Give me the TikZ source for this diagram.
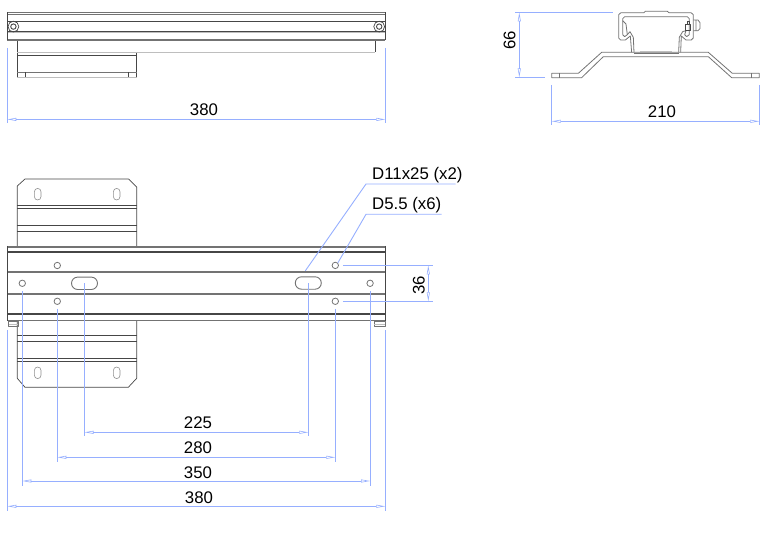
\documentclass[tikz,border=0pt]{standalone}
\usepackage{fontspec}
\setmainfont{Liberation Sans}
\usetikzlibrary{arrows.meta, shapes.misc}
\definecolor{dimblue}{RGB}{150,175,255}
\definecolor{steeldark}{RGB}{70,70,70}
\definecolor{steelmid}{RGB}{115,115,115}
\definecolor{steellight}{RGB}{190,190,190}
\tikzset{
x=1pt, y=-1pt, % reference pixels, y going down
ext/.style={draw=dimblue, line width=0.9pt}, % extension and leader lines
dimline/.style={ext, {Triangle[open, length=9pt, width=3pt, line width=0.6pt]}-{Triangle[open, length=9pt, width=3pt, line width=0.6pt]}},
dimtext/.style={font=\fontsize{16.8}{16.8}\selectfont, text=black, inner sep=0pt},
edge1/.style={draw=steeldark, line width=0.7pt},
edge2/.style={draw=steeldark, line width=1.1pt},
band/.style={draw=steelmid, line width=1.9pt},
pale/.style={draw=steellight, line width=1.6pt},
prof/.style={draw=steelmid, line width=0.8pt, line join=round},
hole/.style={circle, draw=steelmid, line width=0.8pt, inner sep=0pt, minimum size=6.4pt},
slotbig/.style={rounded rectangle, draw=steelmid, line width=0.9pt, inner sep=0pt, minimum width=26pt, minimum height=12.4pt},
slotsmall/.style={rounded rectangle, rotate=90, draw=steelmid!80, line width=0.6pt, inner sep=0pt, minimum width=11.6pt, minimum height=6.6pt},
screwo/.style={circle, draw=steeldark, line width=0.7pt, inner sep=0pt, minimum size=10.8pt},
screwi/.style={circle, draw=steeldark, line width=0.9pt, inner sep=0pt, minimum size=5.4pt},
}

\begin{document}
\begin{tikzpicture}
      \useasboundingbox (0,0) rectangle (768,540);

      % top view
      \draw[edge1] (17.3,40) -- (17.3,78) (136.7,53) -- (136.7,78) (375,40) -- (375,52);
      \draw[edge1] (17.3,55) -- (136.7,55);
      \draw[pale] (17.3,52.7) -- (375.4,52.7) (17.3,77.5) -- (136.7,77.5);
      \draw[draw=steelmid, line width=0.9pt] (17.3,72.5) -- (136.7,72.5);
      \draw[edge1] (25.3,72.5) -- (25.3,77.5) (128.3,72.5) -- (128.3,77.5);
      \draw[draw=steelmid, line width=0.9pt] (7.3,12.5) -- (385.3,12.5) (7.3,14.8) -- (385.3,14.8);
      \draw[edge2] (7.3,21.8) -- (385.3,21.8) (7.3,31.7) -- (385.3,31.7);
      \draw[draw=steellight, line width=0.8pt] (7.3,32.8) -- (385.3,32.8);
      \draw[band] (7.3,39.6) -- (385.3,39.6);
      \draw[edge1] (7.3,12.5) -- (7.3,40.4) (385.3,12.5) -- (385.3,40.4);
      \node[screwo] (screwl) at (13.4,26.6) {};
      \node[screwi] (screwli) at (13.4,26.6) {};
      \node[screwo] (screwr) at (379.2,26.6) {};
      \node[screwi] (screwri) at (379.2,26.6) {};

      \coordinate (topa) at (7.3,48);
      \coordinate (topb) at (385.3,48);
      \coordinate (topc) at (7.3,123);
      \coordinate (topd) at (385.3,123);
      \coordinate (tope) at (7.3,119.4);
      \coordinate (topf) at (385.3,119.4);
      \draw[ext] (topa) -- (topc) (topb) -- (topd);
      \draw[dimline] (tope) -- (topf);
      \node[dimtext] (len1) at (204,109.6) {380};

      % side view
      \begin{scope}[shift={(490,0)}, x=0.3333pt, y=-0.3333pt]
      \draw[prof] (185,220) -- (265,220) -- (335,157) -- (655,157) -- (727,220) -- (808,220) -- (808,233) -- (725,233) -- (655,170) -- (340,170) -- (275,233) -- (185,233) -- cycle;
      \draw[prof] (208,220) -- (208,233) (785,220) -- (785,233);
      \draw[prof] (425,157) -- (421,108) -- (406,120) -- (392,120) -- (386,114) -- (386,44) -- (393,38) -- (462,38) -- (466,34) -- (532,34) -- (537,38) -- (603,38) -- (610,44) -- (610,114) -- (604,120) -- (588,120) -- (574,108) -- (572,157);
      \draw[prof] (398,104) -- (398,56) -- (404,50) -- (592,50) -- (598,56) -- (598,104) -- (590,110);
      \draw[prof] (398,104) -- (404,110) -- (412,104) -- (408,72) -- (398,62);
      \draw[prof] (412,104) -- (420,95) -- (430,112) -- (432,157);
      \draw[prof] (590,110) -- (584,104) -- (588,92) -- (578,95) -- (568,112) -- (566,157);
      \draw[prof] (432,161) -- (566,161);
      \draw[pale, line width=1.2pt] (450,154) -- (545,154);
      \draw[edge1, line join=round] (586,72) rectangle (602,90) (591,72) -- (591,64) -- (598,64) -- (598,72);
      \draw[prof] (610,60) -- (624,60) -- (630,68) -- (630,86) -- (624,92) -- (610,92) (618,60) -- (618,92);
      \end{scope}

      \coordinate (hta) at (515,12.5);
      \coordinate (htb) at (613,12.5);
      \coordinate (htc) at (515,77.4);
      \coordinate (htd) at (545,77.4);
      \coordinate (hte) at (519.3,12.5);
      \coordinate (htf) at (519.3,77.4);
      \draw[ext] (hta) -- (htb) (htc) -- (htd);
      \draw[dimline] (hte) -- (htf);
      \node[dimtext, rotate=90] (high) at (509.5,40) {66};
      \coordinate (wda) at (551.7,85);
      \coordinate (wdb) at (759.3,85);
      \coordinate (wdc) at (551.7,125.5);
      \coordinate (wdd) at (759.3,125.5);
      \coordinate (wde) at (551.7,121.3);
      \coordinate (wdf) at (759.3,121.3);
      \draw[ext] (wda) -- (wdc) (wdb) -- (wdd);
      \draw[dimline] (wde) -- (wdf);
      \node[dimtext] (wide) at (662,111.6) {210};

      % plan view
      \draw[edge1, line join=round] (17.3,246) -- (17.3,186) -- (25,179) -- (128.5,179) -- (136.7,187) -- (136.7,246);
      \draw[edge1] (17.3,205.3) -- (136.7,205.3) (17.3,208.4) -- (136.7,208.4) (17.3,225.3) -- (136.7,225.3) (17.3,231.3) -- (136.7,231.3);
      \node[slotsmall] (up1) at (37.7,194.2) {};
      \node[slotsmall] (up2) at (116.7,194.2) {};
      \draw[edge1, line join=round] (17.3,321) -- (17.3,378.3) -- (25,387.3) -- (128.3,387.3) -- (136.7,378.3) -- (136.7,321);
      \draw[edge1] (17.3,335.3) -- (136.7,335.3) (17.3,341) -- (136.7,341) (17.3,358.3) -- (136.7,358.3) (17.3,361.3) -- (136.7,361.3);
      \node[slotsmall] (lo1) at (37.7,372.8) {};
      \node[slotsmall] (lo2) at (116.7,372.8) {};

      \draw[band] (7.3,246.7) -- (385.3,246.7) (7.3,271.7) -- (385.3,271.7) (7.3,294.3) -- (385.3,294.3) (7.3,320.5) -- (385.3,320.5);
      \draw[edge2] (7.3,252) -- (385.3,252) (7.3,314) -- (385.3,314);
      \draw[edge1] (7.3,245.8) -- (7.3,321.4) (385.3,245.8) -- (385.3,321.4);
      \draw[prof] (8.6,321.5) rectangle (18.3,326.7) (374.3,321.5) rectangle (385,326.7);
      \draw[prof, draw=steellight] (8.6,324) -- (18.3,324) (374.3,324) -- (385,324);

      \node[hole] (h1) at (22.3,283.3) {};
      \node[hole] (h2) at (57.3,265.5) {};
      \node[hole] (h3) at (57.3,301.3) {};
      \node[hole] (h4) at (335.3,265.4) {};
      \node[hole] (h5) at (335.3,301.3) {};
      \node[hole] (h6) at (370.1,283.3) {};
      \node[slotbig] (s1) at (84.5,283.3) {};
      \node[slotbig] (s2) at (308.3,283) {};

      \coordinate (d225a) at (84.5,436);
      \coordinate (d225b) at (308.3,436);
      \coordinate (d225c) at (84.5,432.3);
      \coordinate (d225d) at (308.3,432.3);
      \draw[ext] (s1.center) -- (d225a) (s2.center) -- (d225b);
      \draw[dimline] (d225c) -- (d225d);
      \node[dimtext] (t225) at (198,422.6) {225};

      \coordinate (d280a) at (57.3,461.7);
      \coordinate (d280b) at (335.3,461.7);
      \coordinate (d280c) at (57.3,457.3);
      \coordinate (d280d) at (335.3,457.3);
      \draw[ext] ([yshift=-4pt]h3.south) -- (d280a) ([yshift=-4pt]h5.south) -- (d280b);
      \draw[dimline] (d280c) -- (d280d);
      \node[dimtext] (t280) at (198,447.6) {280};

      \coordinate (d350a) at (22.3,486);
      \coordinate (d350b) at (370.1,486);
      \coordinate (d350c) at (22.3,481);
      \coordinate (d350d) at (370.1,481);
      \draw[ext] ([yshift=-4pt]h1.south) -- (d350a) ([yshift=-4pt]h6.south) -- (d350b);
      \draw[dimline] (d350c) -- (d350d);
      \node[dimtext] (t350) at (198,472.6) {350};

      \coordinate (d380a) at (7.3,330);
      \coordinate (d380b) at (385.3,330);
      \coordinate (d380c) at (7.3,510.7);
      \coordinate (d380d) at (385.3,510.7);
      \coordinate (d380e) at (7.3,506.3);
      \coordinate (d380f) at (385.3,506.3);
      \draw[ext] (d380a) -- (d380c) (d380b) -- (d380d);
      \draw[dimline] (d380e) -- (d380f);
      \node[dimtext] (t380) at (199,497.6) {380};

      \coordinate (d36a) at (432.7,265.4);
      \coordinate (d36b) at (432.7,301.3);
      \coordinate (d36c) at (428.3,265.4);
      \coordinate (d36d) at (428.3,301.3);
      \draw[ext] ([xshift=4pt]h4.east) -- (d36a) ([xshift=4pt]h5.east) -- (d36b);
      \draw[dimline] (d36c) -- (d36d);
      \node[dimtext, rotate=90] (t36) at (418.8,285) {36};

      \node[dimtext, anchor=base west] (slotnote) at (372,180) {D11x25 (x2)};
      \node[dimtext, anchor=base west] (holenote) at (372,210) {D5.5 (x6)};
      \coordinate (la) at (366,184);
      \coordinate (lb) at (455.7,184);
      \coordinate (lc) at (366,214.3);
      \coordinate (ld) at (441.7,214.3);
      \draw[ext] (lb) -- (la) -- ([xshift=-3pt,yshift=5.5pt]s2.north);
      \draw[ext] (ld) -- (lc) -- (h4.north east);
\end{tikzpicture}
\end{document}
